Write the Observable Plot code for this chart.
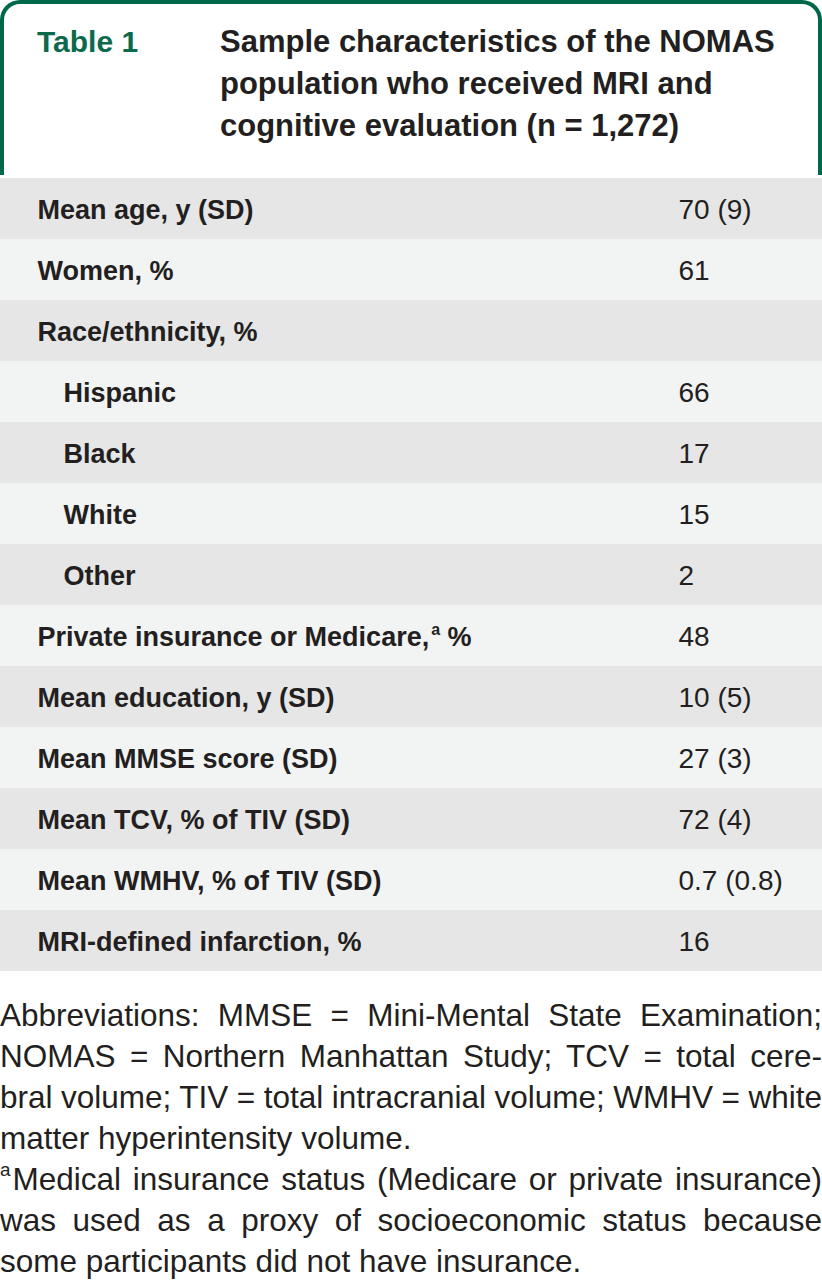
<!DOCTYPE html>
<html>
<head>
<meta charset="utf-8">
<script src="https://cdn.jsdelivr.net/npm/d3@7"></script>
<script src="https://cdn.jsdelivr.net/npm/@observablehq/plot@0.6"></script>
<style>
  html, body { margin: 0; padding: 0; background: #ffffff; }
  body { width: 822px; font-family: "Liberation Sans", Arial, sans-serif; color: #231f20; }
  #header {
    position: relative; box-sizing: border-box; width: 822px; height: 175px;
    border: 4px solid #00684a; border-bottom: none; border-radius: 20px 20px 0 0;
    background: #ffffff;
  }
  #tag { position: absolute; left: 33px; top: 17px; font-size: 30px; font-weight: bold; line-height: 42px; color: #0a6a4b; }
  #title { position: absolute; left: 216px; top: 17px; width: 600px; font-size: 31px; font-weight: bold; line-height: 42px; color: #231f20; }
  #chart svg { display: block; }
  #caption { margin-top: 22px; font-size: 31.5px; line-height: 41px; color: #231f20; }
  #caption .j { text-align: justify; text-align-last: justify; white-space: nowrap; }
  #caption .l { text-align: left; white-space: nowrap; }
  #caption sup { font-size: 0.6em; line-height: 0; vertical-align: 0.75em; margin-right: 2px; }
</style>
</head>
<body>
<div id="header">
  <div id="tag">Table 1</div>
  <div id="title">Sample characteristics of the NOMAS<br>population who received MRI and<br>cognitive evaluation (n = 1,272)</div>
</div>
<div id="chart"></div>
<div id="caption">
  <div class="j">Abbreviations: MMSE = Mini-Mental State Examination;</div>
  <div class="j">NOMAS = Northern Manhattan Study; TCV = total cere-</div>
  <div class="j">bral volume; TIV = total intracranial volume; WMHV = white</div>
  <div class="l">matter hyperintensity volume.</div>
  <div class="j"><sup>a</sup>Medical insurance status (Medicare or private insurance)</div>
  <div class="j">was used as a proxy of socioeconomic status because</div>
  <div class="l">some participants did not have insurance.</div>
</div>
<script>
// ---- data ----
const labels = [
  "Mean age, y (SD)",
  "Women, %",
  "Race/ethnicity, %",
  "Hispanic",
  "Black",
  "White",
  "Other",
  "Private insurance or Medicare,ª %",
  "Mean education, y (SD)",
  "Mean MMSE score (SD)",
  "Mean TCV, % of TIV (SD)",
  "Mean WMHV, % of TIV (SD)",
  "MRI-defined infarction, %"
];
const values = ["70 (9)", "61", "", "66", "17", "15", "2", "48", "10 (5)", "27 (3)", "72 (4)", "0.7 (0.8)", "16"];
const indents = [0, 0, 0, 1, 1, 1, 1, 0, 0, 0, 0, 0, 0];
const shadeNames = ["dark", "light"];
const shadeColors = ["#e6e6e6", "#f2f3f3"];

const rows = labels.map((label, i) => ({
  key: String(i), label, value: values[i], indent: indents[i], shade: shadeNames[i % 2]
}));

const ink = "#231f20";
const chart = Plot.plot({
  width: 822,
  height: 798,
  margin: 0,
  style: { fontFamily: "Liberation Sans, Arial, sans-serif", background: "transparent", overflow: "visible" },
  y: { type: "band", domain: rows.map(d => d.key), padding: 0, axis: null },
  color: { domain: shadeNames, range: shadeColors },
  marks: [
    Plot.cell(rows, { y: "key", fill: "shade" }),
    Plot.text(rows.filter(d => !d.indent), {
      y: "key", text: "label", frameAnchor: "left", textAnchor: "start",
      dx: 37, dy: 1, fontSize: 27, fontWeight: "bold", fill: ink
    }),
    Plot.text(rows.filter(d => d.indent), {
      y: "key", text: "label", frameAnchor: "left", textAnchor: "start",
      dx: 63, dy: 1, fontSize: 27, fontWeight: "bold", fill: ink
    }),
    Plot.text(rows, {
      y: "key", text: "value", frameAnchor: "left", textAnchor: "start",
      dx: 678, dy: 1, fontSize: 28, fill: ink
    })
  ]
});
document.getElementById("chart").appendChild(chart);

// turn the "ª" marker into a real superscript
chart.querySelectorAll("text, tspan").forEach(el => {
  if (el.children.length === 0 && el.textContent.includes("ª")) {
    const [before, after] = el.textContent.split("ª");
    const ns = "http://www.w3.org/2000/svg";
    el.textContent = before;
    const sup = document.createElementNS(ns, "tspan");
    sup.setAttribute("font-size", "16");
    sup.setAttribute("dy", "-11");
    sup.setAttribute("dx", "2");
    sup.textContent = "a";
    const rest = document.createElementNS(ns, "tspan");
    rest.setAttribute("dy", "11");
    rest.textContent = after;
    el.appendChild(sup);
    el.appendChild(rest);
  }
});

// keep every justified caption line within the width
document.querySelectorAll("#caption .j, #caption .l").forEach(t => {
  const r = document.createRange(); r.selectNodeContents(t);
  let ws = 0;
  while (r.getBoundingClientRect().width > 821 && ws > -10) { ws -= 0.5; t.style.wordSpacing = ws + "px"; }
});
</script>
</body>
</html>
